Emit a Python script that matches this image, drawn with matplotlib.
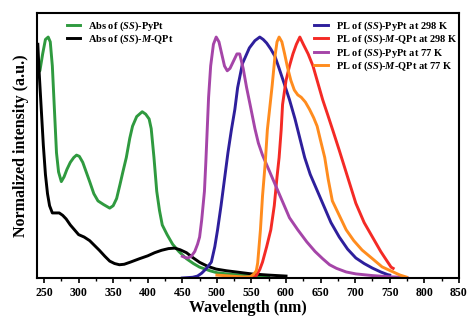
import matplotlib
matplotlib.use("Agg")
import matplotlib.pyplot as plt
import numpy as np

plt.rcParams['font.family'] = ['Liberation Serif', 'DejaVu Serif']
plt.rcParams['font.weight'] = 'bold'
plt.rcParams['mathtext.fontset'] = 'custom'
plt.rcParams['mathtext.rm'] = 'Liberation Serif:bold'
plt.rcParams['mathtext.it'] = 'Liberation Serif:italic:bold'
plt.rcParams['mathtext.bf'] = 'Liberation Serif:bold'

# ---- data (wavelength nm, normalized intensity) ----
abs_pypt_x = [240, 244, 248, 252, 256, 259, 262, 265, 268, 271, 275, 279, 283, 288, 293, 297,
              301, 306, 311, 316, 322, 328, 336, 345, 350, 355, 360, 364, 369, 374, 378, 384,
              392, 397, 402, 405, 409, 413, 417, 421, 428, 436, 445, 456, 466, 475, 490, 500,
              520, 550, 575]
abs_pypt_y = [0.85, 0.86, 0.93, 0.99, 1.0, 0.98, 0.88, 0.70, 0.52, 0.44, 0.40, 0.42, 0.45, 0.48, 0.50, 0.51,
              0.505, 0.48, 0.44, 0.40, 0.35, 0.32, 0.305, 0.29, 0.30, 0.33, 0.39, 0.44, 0.50, 0.58, 0.63, 0.67,
              0.69, 0.68, 0.66, 0.62, 0.50, 0.36, 0.28, 0.22, 0.18, 0.14, 0.11, 0.08, 0.06, 0.045, 0.03, 0.022,
              0.015, 0.01, 0.006]

abs_qpt_x = [241, 243, 246, 249, 252, 255, 258, 262, 267, 272, 277, 282, 288, 294, 300, 308, 316,
             323, 330, 338, 345, 352, 359, 366, 375, 388, 400, 410, 420, 430, 439, 447, 456, 465,
             475, 487, 499, 514, 528, 550, 575, 600]
abs_qpt_y = [0.97, 0.85, 0.70, 0.55, 0.43, 0.35, 0.30, 0.27, 0.27, 0.27, 0.26, 0.245, 0.22, 0.20, 0.18, 0.17, 0.155,
             0.135, 0.115, 0.09, 0.07, 0.06, 0.055, 0.057, 0.066, 0.08, 0.092, 0.105, 0.115, 0.122, 0.124, 0.117, 0.105, 0.085,
             0.065, 0.048, 0.037, 0.03, 0.025, 0.017, 0.012, 0.008]

pl_pypt_298_x = [450, 465, 472, 478, 485, 492, 497, 501, 506, 511, 516, 521, 526, 530, 537, 547,
                 555, 562, 567, 572, 578, 584, 590, 597, 605, 613, 620, 627, 635, 644, 653, 665,
                 677, 689, 701, 713, 725, 737, 747, 750]
pl_pypt_298_y = [0.0, 0.003, 0.008, 0.02, 0.04, 0.066, 0.13, 0.20, 0.30, 0.41, 0.52, 0.615, 0.70, 0.79, 0.89, 0.955,
                 0.985, 1.0, 0.99, 0.975, 0.95, 0.92, 0.87, 0.81, 0.74, 0.66, 0.58, 0.50, 0.43, 0.37, 0.31, 0.23,
                 0.17, 0.12, 0.083, 0.06, 0.041, 0.025, 0.014, 0.012]

pl_qpt_298_x = [550, 557, 562, 566, 572, 578, 583, 587, 590, 593, 595, 600, 605, 610, 615, 620,
                625, 632, 639, 646, 653, 660, 668, 677, 689, 701, 713, 725, 737, 745, 752, 755]
pl_qpt_298_y = [0.0, 0.01, 0.035, 0.066, 0.13, 0.2, 0.3, 0.42, 0.50, 0.615, 0.72, 0.82, 0.88, 0.93, 0.97, 1.0,
                0.97, 0.93, 0.88, 0.81, 0.74, 0.68, 0.61, 0.53, 0.42, 0.31, 0.23, 0.17, 0.11, 0.075, 0.045, 0.04]

pl_pypt_77_x = [450, 454, 458, 463, 468, 472, 475, 478, 480, 482, 484, 486, 488, 491, 495, 499,
                503, 507, 511, 515, 519, 524, 529, 533, 538, 543, 548, 555, 560, 566, 572, 581,
                593, 605, 617, 630, 642, 653, 663, 673, 687, 701, 725, 750, 775]
pl_pypt_77_y = [0.09, 0.085, 0.083, 0.09, 0.11, 0.14, 0.17, 0.24, 0.30, 0.36, 0.48, 0.615, 0.75, 0.88, 0.97, 1.0,
                0.98, 0.93, 0.88, 0.86, 0.87, 0.9, 0.93, 0.93, 0.87, 0.79, 0.72, 0.62, 0.56, 0.51, 0.47, 0.41,
                0.33, 0.25, 0.20, 0.15, 0.11, 0.08, 0.055, 0.04, 0.025, 0.017, 0.01, 0.005, 0.002]

pl_qpt_77_x = [500, 520, 540, 548, 553, 557, 559, 563, 566, 570, 573, 577, 580, 584, 587, 590,
               594, 598, 602, 607, 612, 617, 622, 628, 634, 640, 645, 650, 656, 661, 667, 677,
               687, 698, 710, 725, 739, 755, 765, 774]
pl_qpt_77_y = [0.012, 0.008, 0.004, 0.005, 0.015, 0.03, 0.062, 0.2, 0.34, 0.48, 0.615, 0.72, 0.8, 0.92, 0.98, 1.0,
               0.98, 0.93, 0.876, 0.82, 0.78, 0.76, 0.75, 0.73, 0.70, 0.665, 0.63, 0.57, 0.50, 0.41, 0.32, 0.26,
               0.20, 0.155, 0.116, 0.08, 0.046, 0.025, 0.012, 0.004]

series = [
    (abs_pypt_x, abs_pypt_y, '#2f9a3f', r'Abs of ($\mathit{SS}$)-PyPt'),
    (abs_qpt_x, abs_qpt_y, '#000000', r'Abs of ($\mathit{SS}$)-$\mathit{M}$-QPt'),
    (pl_pypt_298_x, pl_pypt_298_y, '#2e1f9c', r'PL of ($\mathit{SS}$)-PyPt at 298 K'),
    (pl_qpt_298_x, pl_qpt_298_y, '#f42a25', r'PL of ($\mathit{SS}$)-$\mathit{M}$-QPt at 298 K'),
    (pl_pypt_77_x, pl_pypt_77_y, '#a545a8', r'PL of ($\mathit{SS}$)-PyPt at 77 K'),
    (pl_qpt_77_x, pl_qpt_77_y, '#ff8c1e', r'PL of ($\mathit{SS}$)-$\mathit{M}$-QPt at 77 K'),
]

fig = plt.figure(figsize=(4.76, 3.24), dpi=100)
ax = fig.add_axes([0.078, 0.142, 0.886, 0.818])

lines = []
for x, y, c, lab in series:
    ln, = ax.plot(x, y, color=c, lw=2.1, label=lab)
    lines.append(ln)

ax.set_xlim(240, 850)
ax.set_ylim(0, 1.1)
ax.set_xticks(np.arange(250, 851, 50))
ax.set_xticks(np.arange(250, 851, 25), minor=True)
ax.set_yticks([])
ax.tick_params(axis='x', which='major', direction='out', length=3.5, width=1.2, labelsize=8.5, pad=3)
ax.tick_params(axis='x', which='minor', direction='out', length=2, width=1.0)
for lbl in ax.get_xticklabels():
    lbl.set_fontweight('bold')
for sp in ax.spines.values():
    sp.set_linewidth(1.5)

ax.set_xlabel('Wavelength (nm)', fontsize=11.5, fontweight='bold', labelpad=1)
ax.set_ylabel('Normalized intensity (a.u.)', fontsize=11.5, fontweight='bold', labelpad=6)

leg1 = ax.legend(handles=lines[:2], loc='upper left', bbox_to_anchor=(0.055, 1.0), frameon=False,
                 fontsize=7.5, handlelength=1.3, handletextpad=0.8, labelspacing=0.0, borderaxespad=0.2)
ax.add_artist(leg1)
ax.legend(handles=lines[2:], loc='upper right', bbox_to_anchor=(1.012, 1.0), frameon=False,
          fontsize=7.5, handlelength=1.3, handletextpad=0.8, labelspacing=0.0, borderaxespad=0.2)

fig.savefig('out.png', dpi=100)
